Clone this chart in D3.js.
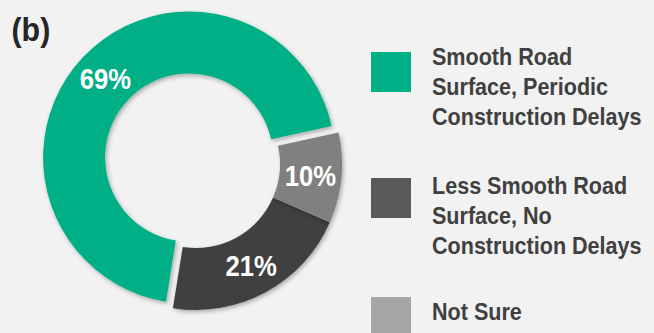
<!DOCTYPE html>
<html>
<head>
<meta charset="utf-8">
<script src="https://cdn.jsdelivr.net/npm/d3@7"></script>
<style>
  html, body { margin: 0; padding: 0; background: #f2f2f2; overflow: hidden; }
  svg { display: block; }
</style>
</head>
<body>
<svg id="chart" width="654" height="333"></svg>
<script>
// ---- data ----
const categories = [
  "Smooth Road Surface, Periodic Construction Delays",
  "Less Smooth Road Surface, No Construction Delays",
  "Not Sure"
];
const legendLines = [
  ["Smooth Road", "Surface, Periodic", "Construction Delays"],
  ["Less Smooth Road", "Surface, No", "Construction Delays"],
  ["Not Sure"]
];
const shares = [69, 21, 10];
const sliceColors = ["#00af86", "#404040", "#808080"];
const swatchColors = ["#00af86", "#595959", "#a6a6a6"];
const explodedSlices = [true, false, false];
const panelLabel = "(b)";

// ---- layout ----
const W = 654, H = 333;
const cx = 196, cy = 164;
const outerR = 146, innerR = 84;
const explodeBy = 9.5;
const firstAngle = 77.5 * Math.PI / 180;
const fontFamily = "'Liberation Sans', Arial, Helvetica, sans-serif";

const svg = d3.select("#chart");

// soft shadow under the ring segments
const defs = svg.append("defs");
const f = defs.append("filter").attr("id", "shadow")
  .attr("x", "-20%").attr("y", "-20%").attr("width", "140%").attr("height", "140%");
f.append("feDropShadow").attr("dx", 1.5).attr("dy", 2).attr("stdDeviation", 2)
  .attr("flood-color", "#000").attr("flood-opacity", 0.3);

// doughnut: slices run counter-clockwise from the first angle
const pie = d3.pie().sort(null).value(d => d)
  .startAngle(firstAngle).endAngle(firstAngle - 2 * Math.PI);
const arc = d3.arc().innerRadius(innerR).outerRadius(outerR);
const arcs = pie(shares);

function offset(d, i) {
  if (!explodedSlices[i]) return [0, 0];
  const mid = (d.startAngle + d.endAngle) / 2;
  return [explodeBy * Math.sin(mid), -explodeBy * Math.cos(mid)];
}

const ring = svg.append("g").attr("transform", `translate(${cx},${cy})`);
const slices = ring.selectAll("g.slice").data(arcs).join("g")
  .attr("class", "slice")
  .attr("transform", (d, i) => { const o = offset(d, i); return `translate(${o[0]},${o[1]})`; });

slices.append("path")
  .attr("d", arc)
  .attr("fill", (d, i) => sliceColors[i])
  .attr("filter", "url(#shadow)");

slices.append("text")
  .attr("transform", d => { const c = arc.centroid(d); return `translate(${c[0]},${c[1]}) scale(0.87,1)`; })
  .attr("text-anchor", "middle")
  .attr("dy", "0.36em")
  .attr("font-family", fontFamily)
  .attr("font-weight", "bold")
  .attr("font-size", 29.5)
  .attr("fill", "#ffffff")
  .text(d => d.data + "%");

// panel label
svg.append("text")
  .attr("transform", "translate(11.5,40.7) scale(0.92,1)")
  .attr("font-family", fontFamily)
  .attr("font-weight", "bold")
  .attr("font-size", 33)
  .attr("fill", "#262626")
  .text(panelLabel);

// legend
const swatchX = 371, swatchSize = 40;
const swatchTops = [52, 178, 297];
const textX = 432;
const firstBaselines = [64.5, 193.5, 319.5];
const lineGap = 30;

const legend = svg.append("g").attr("class", "legend");
const items = legend.selectAll("g.item").data(categories).join("g").attr("class", "item");

items.append("rect")
  .attr("x", swatchX)
  .attr("y", (d, i) => swatchTops[i])
  .attr("width", swatchSize)
  .attr("height", swatchSize)
  .attr("fill", (d, i) => swatchColors[i]);

items.each(function (d, i) {
  d3.select(this).selectAll("text").data(legendLines[i]).join("text")
    .attr("transform", (t, j) => `translate(${textX},${firstBaselines[i] + j * lineGap}) scale(0.88,1)`)
    .attr("font-family", fontFamily)
    .attr("font-weight", "bold")
    .attr("font-size", 24.5)
    .attr("fill", "#404040")
    .text(t => t);
});
</script>
</body>
</html>
